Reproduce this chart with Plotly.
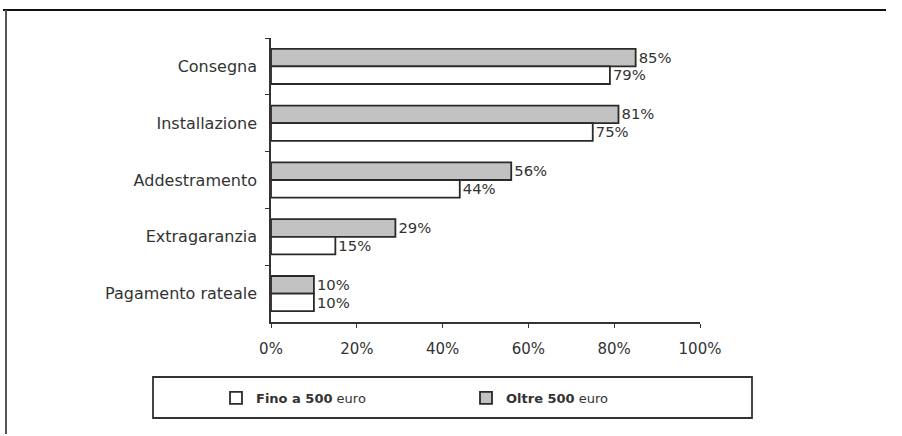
import plotly.graph_objects as go

categories = ["Consegna", "Installazione", "Addestramento", "Extragaranzia", "Pagamento rateale"]
fino = [0.79, 0.75, 0.44, 0.15, 0.10]
oltre = [0.85, 0.81, 0.56, 0.29, 0.10]
tick_vals = [0, 0.2, 0.4, 0.6, 0.8, 1.0]
tick_text = ["0%", "20%", "40%", "60%", "80%", "100%"]

FONT = "DejaVu Sans, Verdana, sans-serif"
TXT = "#333333"

L, R, T, B = 271, 700, 38, 322
W, H = 902, 436
def px(x): return (x - L) / (R - L)
def py(y): return (B - y) / (B - T)

fig = go.Figure()
fig.add_trace(go.Bar(
    y=categories, x=oltre, orientation="h", name="<b>Oltre 500</b> euro",
    marker=dict(color="#c2c2c2", line=dict(color="#2a2a2a", width=1.8)),
    text=[f"{round(v*100)}%" for v in oltre], textposition="outside",
    textfont=dict(family=FONT, size=16, color=TXT), cliponaxis=False,
    legendrank=2,
))
fig.add_trace(go.Bar(
    y=categories, x=fino, orientation="h", name="<b>Fino a 500</b> euro",
    marker=dict(color="#ffffff", line=dict(color="#2a2a2a", width=1.8)),
    text=[f"{round(v*100)}%" for v in fino], textposition="outside",
    textfont=dict(family=FONT, size=16, color=TXT), cliponaxis=False,
    legendrank=1,
))

shapes = [
    dict(type="line", xref="paper", yref="paper", x0=px(3), x1=px(886), y0=py(10), y1=py(10),
         line=dict(color="#111111", width=2)),
    dict(type="line", xref="paper", yref="paper", x0=px(6), x1=px(6), y0=py(10), y1=py(434),
         line=dict(color="#555555", width=2)),
    dict(type="rect", xref="paper", yref="paper", x0=px(153), x1=px(752), y0=py(377), y1=py(418),
         line=dict(color="#333333", width=1.8), fillcolor="rgba(0,0,0,0)"),
]

fig.update_layout(
    width=W, height=H,
    margin=dict(l=L, r=W - R, t=T, b=H - B, pad=0),
    paper_bgcolor="white", plot_bgcolor="white",
    barmode="group", bargap=0.38, bargroupgap=0.0,
    font=dict(family=FONT, size=15, color=TXT),
    showlegend=True,
    legend=dict(orientation="h", x=px(216), y=py(398), xanchor="left", yanchor="middle",
                entrywidth=205, entrywidthmode="pixels", bgcolor="rgba(0,0,0,0)",
                font=dict(family=FONT, size=13, color=TXT), itemwidth=30, traceorder="normal"),
    shapes=shapes,
    xaxis=dict(range=[0, 1], tickvals=tick_vals, ticktext=tick_text, showgrid=False, zeroline=False,
               showline=True, linecolor="#333333", linewidth=1.5, ticks="outside", ticklen=4,
               tickcolor="#333333", tickfont=dict(family=FONT, size=15, color=TXT),
               ticklabelstandoff=8, fixedrange=True),
    yaxis=dict(autorange="reversed", showgrid=False, zeroline=False, showline=True,
               linecolor="#333333", linewidth=1.5, ticks="outside", ticklen=4, tickcolor="#333333",
               tickson="boundaries", tickfont=dict(family=FONT, size=16, color=TXT),
               ticklabelstandoff=9),
)

fig.write_html("out.html", config={"displayModeBar": False})
